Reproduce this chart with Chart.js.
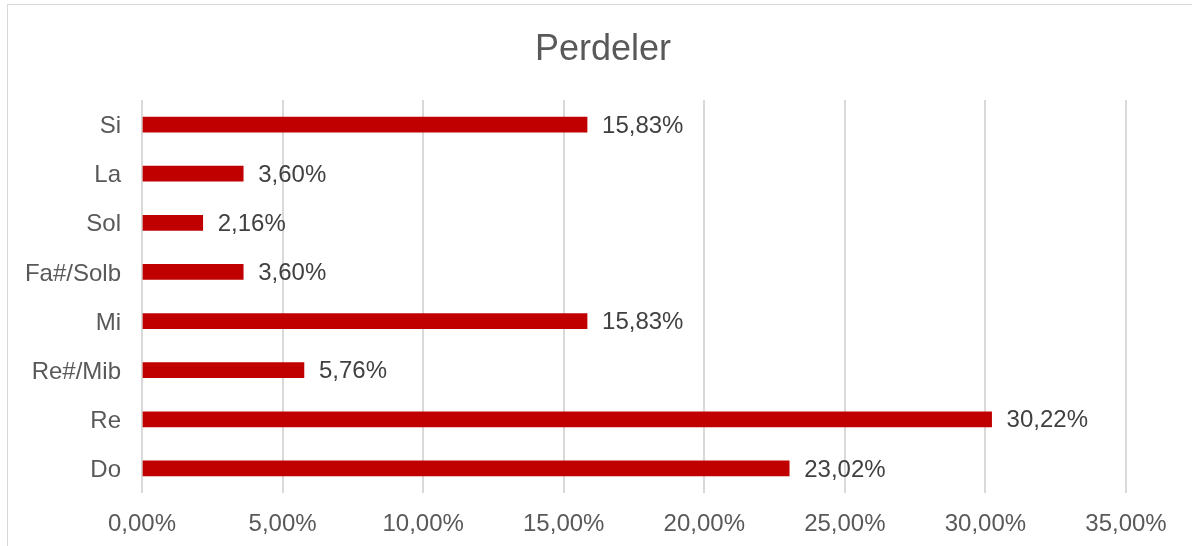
<!DOCTYPE html>
<html>
<head>
<meta charset="utf-8">
<script src="https://cdn.jsdelivr.net/npm/chart.js@4/dist/chart.umd.min.js"></script>
<style>
    html, body { margin: 0; padding: 0; background: #fff; overflow: hidden; }
    body { width: 1192px; height: 546px; position: relative; }
    #frame {
        position: absolute; left: 7px; top: 4px;
        width: 1190px; height: 560px;
        border-left: 1px solid #d9d9d9; border-top: 1px solid #d9d9d9;
    }
    #chart { display: block; }
</style>
</head>
<body>
<div id="frame"><canvas id="chart" width="1190" height="545"></canvas></div>
<script>
// === DATA ===
const TITLE = 'Perdeler';
const categories = ['Si', 'La', 'Sol', 'Fa#/Solb', 'Mi', 'Re#/Mib', 'Re', 'Do'];
const shares = [15.83, 3.60, 2.16, 3.60, 15.83, 5.76, 30.22, 23.02];
const xTicks = [0, 5, 10, 15, 20, 25, 30, 35];

const FONT = "'Liberation Sans', Arial, sans-serif";
const pct = v => v.toFixed(2).replace('.', ',') + '%';

// value labels to the right of each bar
const barLabels = {
    id: 'barLabels',
    afterDatasetsDraw(chart) {
        const ctx = chart.ctx;
        const meta = chart.getDatasetMeta(0);
        ctx.save();
        ctx.font = `24px ${FONT}`;
        ctx.fillStyle = '#404040';
        ctx.textAlign = 'left';
        ctx.textBaseline = 'middle';
        meta.data.forEach((bar, i) => {
            ctx.fillText(pct(shares[i]), bar.x + 15, bar.y + 1.5);
        });
        ctx.restore();
    }
};

// title centred on the whole frame (the built-in one is centred minus layout padding)
const frameTitle = {
    id: 'frameTitle',
    afterDraw(chart) {
        const ctx = chart.ctx;
        ctx.save();
        ctx.font = `36px ${FONT}`;
        ctx.fillStyle = '#595959';
        ctx.textAlign = 'center';
        ctx.textBaseline = 'middle';
        ctx.fillText(TITLE, chart.width / 2, 45);
        ctx.restore();
    }
};

const ctx = document.getElementById('chart').getContext('2d');

new Chart(ctx, {
    type: 'bar',
    data: {
        labels: categories,
        datasets: [{
            data: shares,
            backgroundColor: '#c00000',
            borderWidth: 0,
            barThickness: 15
        }]
    },
    options: {
        indexAxis: 'y',
        responsive: false,
        animation: false,
        layout: { padding: { left: 0, right: 72, top: 95, bottom: 0 } },
        plugins: {
            legend: { display: false },
            tooltip: { enabled: false },
            title: { display: false }
        },
        scales: {
            x: {
                min: 0,
                max: 35,
                afterBuildTicks: s => { s.ticks = xTicks.map(v => ({ value: v })); },
                afterFit: s => { s.height = 57; },
                grid: { color: '#d9d9d9', lineWidth: 2, drawTicks: false },
                border: { display: false },
                ticks: {
                    color: '#595959',
                    font: { size: 24, family: FONT },
                    padding: 17,
                    maxRotation: 0,
                    callback: v => pct(v)
                }
            },
            y: {
                afterFit: s => { s.width = 134; },
                grid: { display: false, drawTicks: false },
                border: { display: false },
                ticks: {
                    color: '#595959',
                    font: { size: 24, family: FONT },
                    padding: 21,
                    labelOffset: 2
                }
            }
        }
    },
    plugins: [barLabels, frameTitle]
});
</script>
</body>
</html>
